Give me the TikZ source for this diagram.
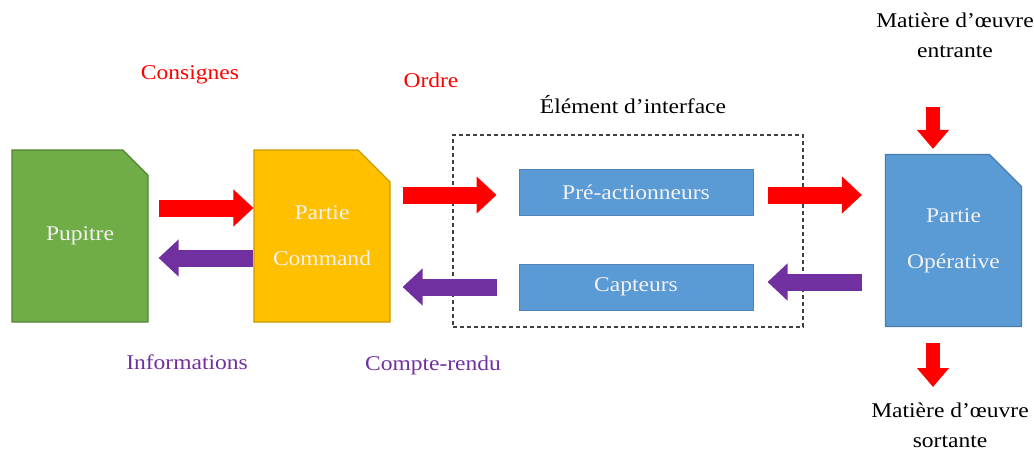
\documentclass[tikz,border=0pt]{standalone}
\usepackage{fontspec}
\setmainfont[FakeStretch=1.12]{Liberation Serif}
\usetikzlibrary{arrows.meta,shapes.misc}
\definecolor{cred}{HTML}{FF0000}
\definecolor{cpurple}{HTML}{7030A0}
\definecolor{cgreen}{HTML}{70AD47}
\definecolor{corange}{HTML}{FFC000}
\definecolor{cblue}{HTML}{5B9BD5}
\definecolor{ctext}{HTML}{F2F2F2}

\begin{document}
\begin{tikzpicture}[x=1pt,y=-1pt,
  lbl/.style={font=\fontsize{21}{30}\selectfont, inner sep=0pt, align=center},
  block/.style={chamfered rectangle, chamfered rectangle corners=north east,
    chamfered rectangle xsep=16pt, chamfered rectangle ysep=16pt,
    minimum width=136pt, minimum height=172pt, inner sep=0pt, line width=1.2pt,
    text=ctext, align=center, font=\fontsize{21}{46}\selectfont},
  bar/.style={rectangle, fill=cblue, draw=cblue!85!black, line width=1pt,
    minimum width=234pt, minimum height=46pt, inner sep=0pt,
    text=ctext, font=\fontsize{21}{30}\selectfont},
  redarrow/.style={draw=cred, line width=17pt, -{Triangle[length=20pt,width=36pt]}},
  purplearrow/.style={draw=cpurple, line width=17pt, -{Triangle[length=20pt,width=36pt]}},
  downarrow/.style={draw=cred, line width=14pt, -{Triangle[length=19pt,width=31pt]}},
]
\useasboundingbox (0,0) rectangle (1034,452);

% blocks
\node[block, fill=cgreen, draw=cgreen!75!black] (pup) at (80,236) {Pupitre};
\node[block, fill=corange, draw=corange!80!black] (pc) at (322,236) {Partie\\Command};
\node[block, fill=cblue, draw=cblue!80!black] (po) at (953.5,240.5) {Partie\\Opérative};

% interface element
\node[draw=black!75, dashed, dash pattern=on 4pt off 3pt, line width=1.3pt,
      minimum width=350pt, minimum height=192pt, inner sep=0pt] (iface) at (628,231) {};
\node[lbl] (ifacelbl) at (633,105) {Élément d’interface};
\node[bar] (pre) at (636,192) {Pré-actionneurs};
\node[bar] (cap) at (636,287) {Capteurs};

% flow labels
\node[lbl, text=cred] (consignes) at (190,75) {Consignes};
\node[lbl, text=cred] (ordre) at (431,80) {Ordre};
\node[lbl, text=cpurple] (infos) at (187,362) {Informations};
\node[lbl, text=cpurple] (cr) at (433,365) {Compte-rendu};
\node[lbl] (entree) at (955,35) {Matière d’œuvre\\entrante};
\node[lbl] (sortie) at (950,425) {Matière d’œuvre\\sortante};

% material flow ends
\coordinate (inTop) at (933,107);
\coordinate (outBot) at (933,387);

% block arrows
\draw[redarrow, shorten <=10pt] (pup.east |- 0,208) -- (pc.west |- 0,208);
\draw[purplearrow, shorten >=10pt] (pc.west |- 0,258) -- (pup.east |- 0,258);
\draw[redarrow, shorten <=12pt, shorten >=22pt] (pc.east |- 0,195) -- (pre.west |- 0,195);
\draw[purplearrow, shorten <=22pt, shorten >=12pt] (cap.west) -- (pc.east |- cap.west);
\draw[redarrow, shorten <=14pt, shorten >=23pt] (pre.east |- 0,195) -- (po.west |- 0,195);
\draw[purplearrow, shorten <=23pt, shorten >=14pt] (po.west |- 0,282) -- (cap.east |- 0,282);
\draw[downarrow, shorten >=5pt] (inTop) -- (inTop |- po.north);
\draw[downarrow, shorten <=16pt] (outBot |- po.south) -- (outBot);
\end{tikzpicture}
\end{document}
